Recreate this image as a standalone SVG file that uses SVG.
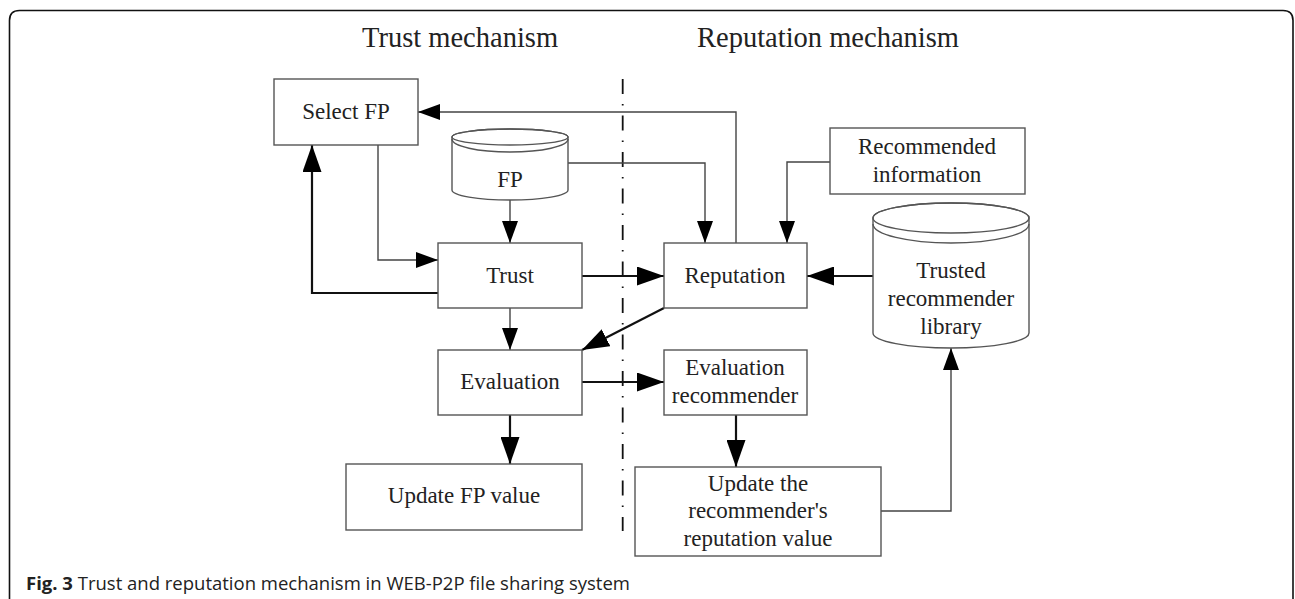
<svg xmlns="http://www.w3.org/2000/svg" width="1295" height="599" viewBox="0 0 1295 599">
  <style>
    .box { fill: #fff; stroke: #555; stroke-width: 1.4; }
    .db { fill: #fff; stroke: #555; stroke-width: 1.4; }
    .dbline { fill: none; stroke: #555; stroke-width: 1.4; }
    .lbl { font-family: "Liberation Serif", "Times New Roman", serif; font-size: 23px; fill: #222; text-anchor: middle; }
    .head { font-family: "Liberation Serif", "Times New Roman", serif; font-size: 28.5px; fill: #222; }
    .thin { fill: none; stroke: #444; stroke-width: 1.4; }
    .thick { fill: none; stroke: #111; stroke-width: 2.2; }
    .cap { font-family: "Open Sans", "Liberation Sans", sans-serif; font-size: 18.5px; fill: #222; }
  </style>
  <defs>
    <marker id="arrS" markerUnits="userSpaceOnUse" markerWidth="22" markerHeight="16" refX="22" refY="8" orient="auto">
      <path d="M0,0 L22,8 L0,16 z" fill="#000"/>
    </marker>
    <marker id="arrL" markerUnits="userSpaceOnUse" markerWidth="27" markerHeight="19" refX="27" refY="9.5" orient="auto">
      <path d="M0,0 L27,9.5 L0,19 z" fill="#000"/>
    </marker>
  </defs>

  <!-- outer frame, open at the bottom -->
  <path d="M9.5,599 V20.5 Q9.5,10.5 19.5,10.5 H1283 Q1293,10.5 1293,20.5 V599" fill="none" stroke="#111" stroke-width="1.6"/>

  <!-- section headings -->
  <text class="head" x="362" y="47">Trust mechanism</text>
  <text class="head" x="697" y="47">Reputation mechanism</text>

  <!-- dash-dot divider between the two mechanisms -->
  <line x1="622.7" y1="79" x2="622.7" y2="531" stroke="#111" stroke-width="1.8" stroke-dasharray="15 10 1.5 10"/>

  <!-- connectors -->
  <g id="connectors">
    <path class="thin" d="M736,243 V112 H418" marker-end="url(#arrS)"/>
    <path class="thin" d="M568,163 H705 V243" marker-end="url(#arrS)"/>
    <path class="thin" d="M830,162 H787 V243" marker-end="url(#arrS)"/>
    <path class="thin" d="M510,200 V243" marker-end="url(#arrS)"/>
    <path class="thick" d="M582,276 H664" marker-end="url(#arrL)"/>
    <path class="thick" d="M873,276 H807" marker-end="url(#arrL)"/>
    <path class="thin" d="M378,145 V260 H438" marker-end="url(#arrS)"/>
    <path class="thick" d="M438,293 H312 V145" marker-end="url(#arrL)"/>
    <path class="thin" d="M510,308 V350" marker-end="url(#arrS)"/>
    <path class="thick" d="M664,308 L582,350" marker-end="url(#arrL)"/>
    <path class="thick" d="M582,382 H664" marker-end="url(#arrL)"/>
    <path class="thick" d="M510,415 V464" marker-end="url(#arrL)"/>
    <path class="thick" d="M736,415 V467" marker-end="url(#arrL)"/>
    <path class="thin" d="M881,511 H951 V348" marker-end="url(#arrS)"/>
  </g>

  <!-- nodes -->
  <g id="select-fp">
    <rect class="box" x="274" y="79" width="144" height="66"/>
    <text class="lbl" x="346" y="119">Select FP</text>
  </g>

  <g id="fp-store">
    <path class="db" d="M452,137 V190 A58,10 0 0 0 568,190 V137 A58,8 0 0 0 452,137 z"/>
    <ellipse class="dbline" cx="510" cy="137" rx="58" ry="8"/>
    <path class="dbline" d="M452,139 A58,13 0 0 0 568,139"/>
    <text class="lbl" x="510" y="187">FP</text>
  </g>

  <g id="trust">
    <rect class="box" x="438" y="243" width="144" height="65"/>
    <text class="lbl" x="510" y="283">Trust</text>
  </g>

  <g id="reputation">
    <rect class="box" x="664" y="243" width="143" height="65"/>
    <text class="lbl" x="735" y="283">Reputation</text>
  </g>

  <g id="recommended-information">
    <rect class="box" x="830" y="128" width="195" height="66"/>
    <text class="lbl" x="927" y="154">Recommended</text>
    <text class="lbl" x="927" y="182">information</text>
  </g>

  <g id="trusted-recommender-library">
    <path class="db" d="M873,218 V333 A78,15 0 0 0 1029,333 V218 A78,15 0 0 0 873,218 z"/>
    <ellipse class="dbline" cx="951" cy="218" rx="78" ry="15"/>
    <path class="dbline" d="M873,224 A78,19 0 0 0 1029,224"/>
    <text class="lbl" x="951" y="278">Trusted</text>
    <text class="lbl" x="951" y="306">recommender</text>
    <text class="lbl" x="951" y="334">library</text>
  </g>

  <g id="evaluation">
    <rect class="box" x="438" y="350" width="144" height="65"/>
    <text class="lbl" x="510" y="389">Evaluation</text>
  </g>

  <g id="evaluation-recommender">
    <rect class="box" x="664" y="350" width="143" height="65"/>
    <text class="lbl" x="735" y="375">Evaluation</text>
    <text class="lbl" x="735" y="403">recommender</text>
  </g>

  <g id="update-fp-value">
    <rect class="box" x="346" y="464" width="236" height="66"/>
    <text class="lbl" x="464" y="503">Update FP value</text>
  </g>

  <g id="update-recommender-reputation">
    <rect class="box" x="635" y="467" width="246" height="89"/>
    <text class="lbl" x="758" y="491">Update the</text>
    <text class="lbl" x="758" y="518">recommender's</text>
    <text class="lbl" x="758" y="546">reputation value</text>
  </g>

  <!-- caption -->
  <text class="cap" x="26" y="590"><tspan font-weight="bold">Fig. 3</tspan> Trust and reputation mechanism in WEB-P2P file sharing system</text>
</svg>
